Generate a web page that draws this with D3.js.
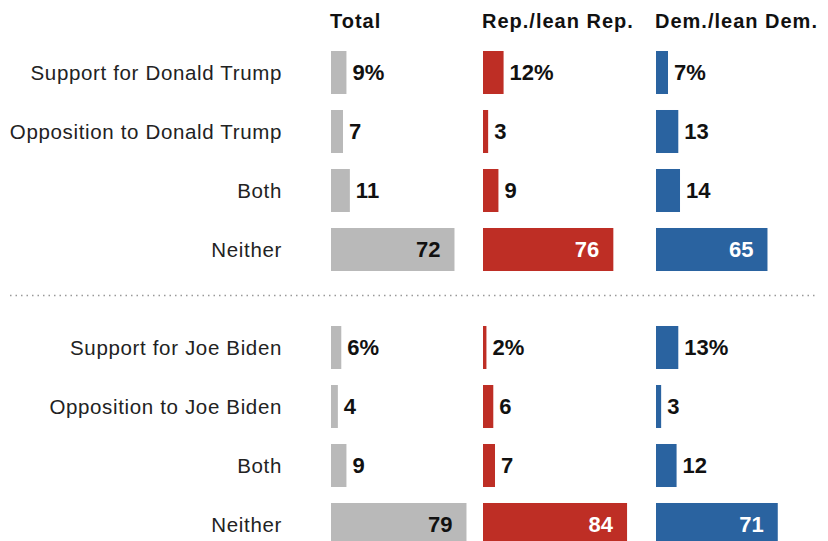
<!DOCTYPE html>
<html>
<head>
<meta charset="utf-8">
<script src="https://cdn.jsdelivr.net/npm/d3@7"></script>
<style>
  html, body { margin: 0; padding: 0; background: #fff; }
  svg { display: block; }
  text { font-family: "Liberation Sans", Arial, sans-serif; }
</style>
</head>
<body>
<svg id="chart" width="828" height="541"></svg>
<script>
// Survey responses, in percent
const columns = ["Total", "Rep./lean Rep.", "Dem./lean Dem."];
const trumpCategories = ["Support for Donald Trump", "Opposition to Donald Trump", "Both", "Neither"];
const bidenCategories = ["Support for Joe Biden", "Opposition to Joe Biden", "Both", "Neither"];

const trumpTotal = [9, 7, 11, 72];
const trumpRep   = [12, 3, 9, 76];
const trumpDem   = [7, 13, 14, 65];

const bidenTotal = [6, 4, 9, 79];
const bidenRep   = [2, 6, 7, 84];
const bidenDem   = [13, 3, 12, 71];

const svg = d3.select("#chart");

const colors = ["#b9b9b9", "#be2e25", "#2a63a0"];
const insideText = ["#111", "#fff", "#fff"];
const colStart = [331, 483, 656];
const unitWidth = 171.5;          // pixels for 100 percent

const xScales = colStart.map(x0 => d3.scaleLinear().domain([0, 100]).range([x0, x0 + unitWidth]));

const sections = [
  { cats: trumpCategories, series: [trumpTotal, trumpRep, trumpDem], top: 51 },
  { cats: bidenCategories, series: [bidenTotal, bidenRep, bidenDem], top: 326 }
];

// Column headers
svg.selectAll("text.header")
  .data(columns)
  .join("text")
  .attr("class", "header")
  .attr("x", (d, i) => colStart[i] - 1)
  .attr("y", 28)
  .attr("font-size", 20)
  .attr("letter-spacing", 1)
  .attr("font-weight", "bold")
  .attr("fill", "#111")
  .text(d => d);

sections.forEach((sec, si) => {
  const y = d3.scaleBand()
    .domain(d3.range(sec.cats.length))
    .range([sec.top - 8, sec.top - 8 + 59 * sec.cats.length])
    .paddingInner(0.271)
    .paddingOuter(0.1355);

  const g = svg.append("g").attr("class", "section-" + si);

  // Category labels
  g.selectAll("text.cat")
    .data(sec.cats)
    .join("text")
    .attr("class", "cat")
    .attr("x", 282)
    .attr("y", (d, i) => y(i) + y.bandwidth() / 2)
    .attr("dy", "0.35em")
    .attr("text-anchor", "end")
    .attr("font-size", 20.5)
    .attr("letter-spacing", 0.65)
    .attr("fill", "#222")
    .text(d => d);

  sec.series.forEach((vals, ci) => {
    const x = xScales[ci];
    const col = g.append("g");

    col.selectAll("rect")
      .data(vals)
      .join("rect")
      .attr("x", x(0))
      .attr("y", (d, i) => y(i))
      .attr("width", d => x(d) - x(0))
      .attr("height", y.bandwidth())
      .attr("fill", colors[ci]);

    const inside = d => d >= 50;
    col.selectAll("text")
      .data(vals)
      .join("text")
      .attr("x", d => inside(d) ? x(d) - 14 : x(d) + 6)
      .attr("y", (d, i) => y(i) + y.bandwidth() / 2)
      .attr("dy", "0.36em")
      .attr("text-anchor", d => inside(d) ? "end" : "start")
      .attr("font-size", 22)
      .attr("font-weight", "bold")
      .attr("fill", d => inside(d) ? insideText[ci] : "#111")
      .text((d, i) => i === 0 ? d + "%" : d);
  });
});

// Dotted divider between the two sections
svg.append("line")
  .attr("x1", 10).attr("x2", 815)
  .attr("y1", 295.5).attr("y2", 295.5)
  .attr("stroke", "#999")
  .attr("stroke-width", 1.5)
  .attr("stroke-dasharray", "1.5,4");
</script>
</body>
</html>
